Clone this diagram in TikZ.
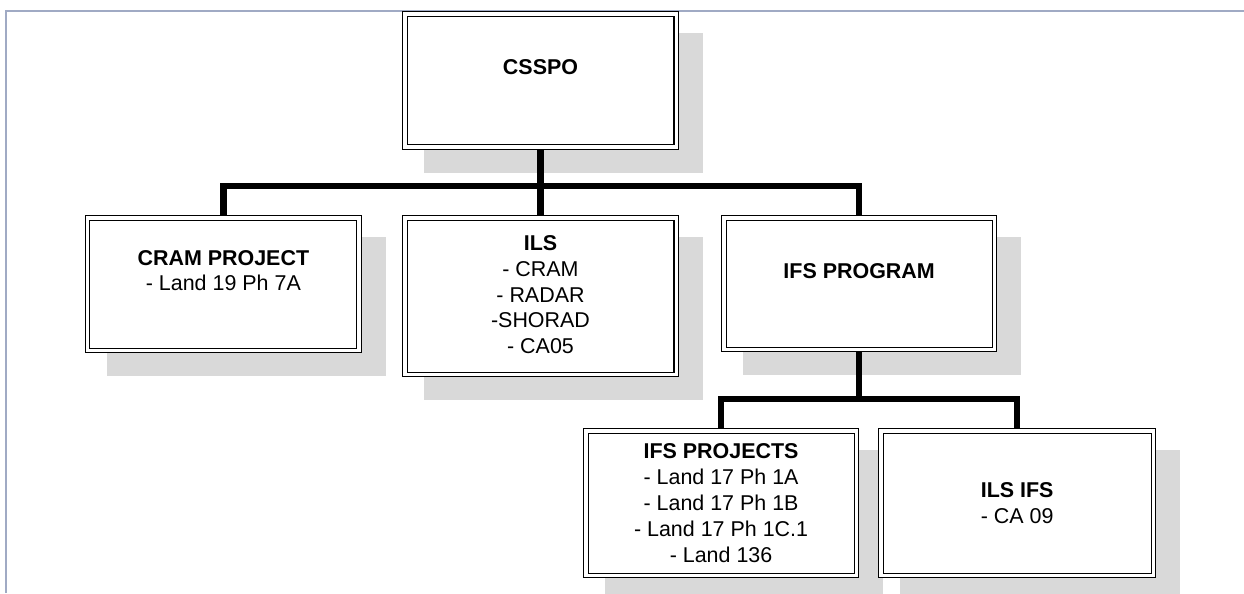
\documentclass[tikz,border=0pt]{standalone}
\usepackage{fontspec}
\setmainfont{Liberation Sans}
\usetikzlibrary{calc, positioning}
\pgfdeclarelayer{shadow}
\pgfsetlayers{shadow,main}
\definecolor{framegray}{RGB}{160,170,196}
\definecolor{shadowgray}{RGB}{217,217,217}
\def\bw{5.43cm}
\def\lw{0.13cm}
\newcommand\drawunitshadow[1]{
    \begin{pgfonlayer}{shadow}
        \fill[shadowgray] ($(#1.south west)+(0.44,-0.46)$) rectangle ($(#1.north east)+(0.48,-0.44)$);
    \end{pgfonlayer}
    }
\tikzset{
    unitbox/.style = {
        draw, double, double distance=2pt, line width=0.6pt, fill=white,
        minimum width=\bw, inner sep=0pt, outer sep=1.6pt
    },
    unittext/.style = {align=center, font=\fontsize{12.2pt}{14.7pt}\selectfont},
    connector/.style = {line width=\lw},
    frameline/.style = {draw=framegray, line width=0.9pt}
    }

\begin{document}
\begin{tikzpicture}
        \useasboundingbox (0,0) rectangle (24.88,-11.86);
        \draw[frameline] (0.12,-11.86) |- (24.88,-0.22);
        % Place the units
        \node[unitbox, minimum height=2.67cm] (csspo) at (10.81,-1.61) {};
        \node[unitbox, minimum height=3.13cm, below=1.3cm of csspo] (ils) {};
        \node[unitbox, minimum height=2.65cm, anchor=north east] (cram) at ([xshift=-0.8cm]ils.north west) {};
        \node[unitbox, minimum height=2.63cm, minimum width=5.41cm, anchor=north west] (ifsprog) at ([xshift=0.84cm]ils.north east) {};
        \node[unitbox, minimum height=2.89cm, minimum width=5.41cm, anchor=north east] (ifsproj) at ([yshift=-1.52cm]ifsprog.south) {};
        \node[unitbox, minimum height=2.89cm, minimum width=5.45cm, anchor=north west] (ilsifs) at ([xshift=0.38cm]ifsproj.north east) {};
        % Shadows of the units
        \foreach \u in {csspo, cram, ils, ifsprog, ifsproj, ilsifs}{
            \drawunitshadow{\u};
        }
        % Texts
        \node[unittext] (csspo-text) at ([yshift=0.27cm]csspo.center) {\textbf{CSSPO}};
        \node[unittext] (cram-text) at ([yshift=0.27cm]cram.center) {\textbf{CRAM PROJECT}\\- Land 19 Ph 7A};
        \node[unittext] (ils-text) at ([yshift=0.03cm]ils.center) {\textbf{ILS}\\- CRAM\\- RADAR\\-SHORAD\\- CA05};
        \node[unittext] (ifsprog-text) at ([yshift=0.25cm]ifsprog.center) {\textbf{IFS PROGRAM}};
        \node[unittext] (ifsproj-text) at (ifsproj.center) {\textbf{IFS PROJECTS}\\- Land 17 Ph 1A\\- Land 17 Ph 1B\\- Land 17 Ph 1C.1\\- Land 136};
        \node[unittext] (ilsifs-text) at (ilsifs.center) {\textbf{ILS IFS}\\- CA 09};
        % Connectors
        \coordinate[above=0.58cm of ils.north] (bus-top);
        \coordinate (bus-low) at ($(ifsprog.south)+(0,-0.94)$);
        \draw[connector] (csspo.south) -- (ils.north);
        \draw[connector] (cram.north) |- (bus-top) -| (ifsprog.north);
        \draw[connector] (ifsprog.south) -- (bus-low);
        \draw[connector] (ifsproj.north) |- (bus-low) -| (ilsifs.north);
    \end{tikzpicture}
\end{document}
